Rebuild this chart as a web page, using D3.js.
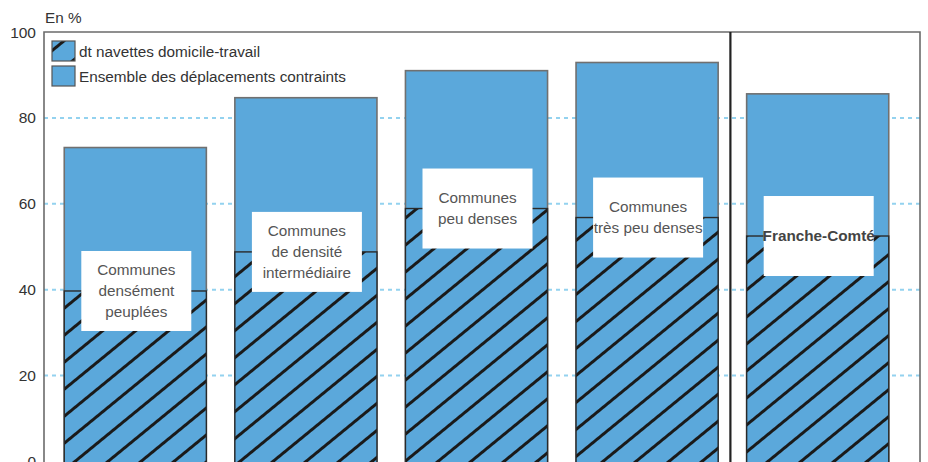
<!DOCTYPE html>
<html>
<head>
<meta charset="utf-8">
<script src="https://cdn.jsdelivr.net/npm/d3@7"></script>
<style>
  body { margin: 0; background: #fff; }
  svg { display: block; font-family: "Liberation Sans", Arial, sans-serif; }
</style>
</head>
<body>
<svg id="chart" width="928" height="462"></svg>
<script>
// données (en %)
const categories = ["Communes densément peuplées", "Communes de densité intermédiaire", "Communes peu denses", "Communes très peu denses", "Franche-Comté"];
const labelLines = [
    ["Communes", "densément", "peuplées"],
    ["Communes", "de densité", "intermédiaire"],
    ["Communes", "peu denses"],
    ["Communes", "très peu denses"],
    ["Franche-Comté"]
];
const ensembleContraints = [73.1, 84.7, 91.0, 92.9, 85.6];
const navettesDomTravail = [39.7, 48.8, 58.9, 56.8, 52.5];
const yTicks = [0, 20, 40, 60, 80, 100];
const legendLabels = ["dt navettes domicile-travail", "Ensemble des déplacements contraints"];

const W = 928, H = 462;
const frame = { left: 44, right: 920, top: 32 };
const barColor = "#5ba8db";

const svg = d3.select("#chart");

// hachures
const defs = svg.append("defs");
defs.append("pattern")
    .attr("id", "hatch")
    .attr("patternUnits", "userSpaceOnUse")
    .attr("width", 40)
    .attr("height", 20.9)
    .attr("patternTransform", "rotate(-39.3) translate(0,6)")
  .call(p => {
      p.append("rect").attr("width", 40).attr("height", 20.9).attr("fill", barColor);
      p.append("line").attr("x1", 0).attr("x2", 40).attr("y1", 1.4).attr("y2", 1.4)
          .attr("stroke", "#1a1a1a").attr("stroke-width", 3);
  });

const x = d3.scaleBand()
    .domain(categories)
    .range([50, 903])
    .paddingInner(0.167)
    .paddingOuter(0.0835);

const y = d3.scaleLinear()
    .domain([0, 100])
    .range([461.5, frame.top]);

// grille pointillée
svg.append("g")
    .selectAll("line")
    .data(yTicks.filter(d => d > 0 && d < 100))
    .join("line")
    .attr("x1", frame.left)
    .attr("x2", frame.right)
    .attr("y1", d => y(d))
    .attr("y2", d => y(d))
    .attr("stroke", "#93d2ef")
    .attr("stroke-width", 2)
    .attr("stroke-dasharray", "4,4");

// cadre
svg.append("path")
    .attr("d", `M${frame.left},${H + 2}V${frame.top}H${frame.right}V${H + 2}`)
    .attr("fill", "none")
    .attr("stroke", "#6b6b6b")
    .attr("stroke-width", 1.6);

// séparateur avant Franche-Comté
const sepX = x(categories[4]) - x.step() * x.paddingInner() / 2 - 2;
svg.append("line")
    .attr("x1", sepX).attr("x2", sepX)
    .attr("y1", frame.top).attr("y2", H + 2)
    .attr("stroke", "#222")
    .attr("stroke-width", 2.2);

// barres : ensemble des déplacements contraints
const bars = svg.append("g");
bars.selectAll("rect.total")
    .data(categories)
    .join("rect")
    .attr("class", "total")
    .attr("x", d => x(d))
    .attr("width", x.bandwidth())
    .attr("y", (d, i) => y(ensembleContraints[i]))
    .attr("height", (d, i) => y(0) - y(ensembleContraints[i]) + 5)
    .attr("fill", barColor)
    .attr("stroke", "#707070")
    .attr("stroke-width", 1.6);

// partie hachurée : navettes domicile-travail
bars.selectAll("rect.navettes")
    .data(categories)
    .join("rect")
    .attr("class", "navettes")
    .attr("x", d => x(d))
    .attr("width", x.bandwidth())
    .attr("y", (d, i) => y(navettesDomTravail[i]))
    .attr("height", (d, i) => y(0) - y(navettesDomTravail[i]) + 5)
    .attr("fill", "url(#hatch)")
    .attr("stroke", "#2a2a2a")
    .attr("stroke-width", 1.4);

// étiquettes des barres (cadres blancs)
const boxW = 110, boxH = 80;
const labels = svg.append("g")
    .selectAll("g")
    .data(categories)
    .join("g")
    .attr("transform", (d, i) => `translate(${x(d) + x.bandwidth() / 2 + 1},${y(navettesDomTravail[i])})`);

labels.append("rect")
    .attr("x", -boxW / 2)
    .attr("y", -boxH / 2)
    .attr("width", boxW)
    .attr("height", boxH)
    .attr("fill", "#fff");

labels.each(function(d, i) {
    const lines = labelLines[i];
    const isTotal = i === 4;
    const t = d3.select(this).append("text")
        .attr("text-anchor", "middle")
        .attr("font-size", 15.3)
        .attr("font-weight", isTotal ? "bold" : "normal")
        .attr("fill", isTotal ? "#444" : "#555");
    const lh = 21;
    const y0 = -((lines.length - 1) * lh) / 2 + 5;
    lines.forEach((l, k) => {
        t.append("tspan").attr("x", 0).attr("y", y0 + k * lh).text(l);
    });
});

// axe des ordonnées
svg.append("g")
    .selectAll("text")
    .data(yTicks)
    .join("text")
    .attr("x", 36)
    .attr("y", d => y(d) + 5.5)
    .attr("text-anchor", "end")
    .attr("font-size", 15.5)
    .attr("fill", "#333")
    .text(d => d);

svg.append("text")
    .attr("x", 45)
    .attr("y", 23)
    .attr("font-size", 15.3)
    .attr("fill", "#333")
    .text("En %");

// légende
const legend = svg.append("g").attr("transform", "translate(52,41)");
const legendFills = ["url(#hatch)", barColor];
legendLabels.forEach((lab, i) => {
    const g = legend.append("g").attr("transform", `translate(0,${i * 25})`);
    g.append("rect")
        .attr("width", 23).attr("height", 20)
        .attr("fill", legendFills[i])
        .attr("stroke", "#555")
        .attr("stroke-width", 1.2);
    g.append("text")
        .attr("x", 27)
        .attr("y", 16)
        .attr("font-size", 15.3)
        .attr("fill", "#333")
        .text(lab);
});
</script>
</body>
</html>
